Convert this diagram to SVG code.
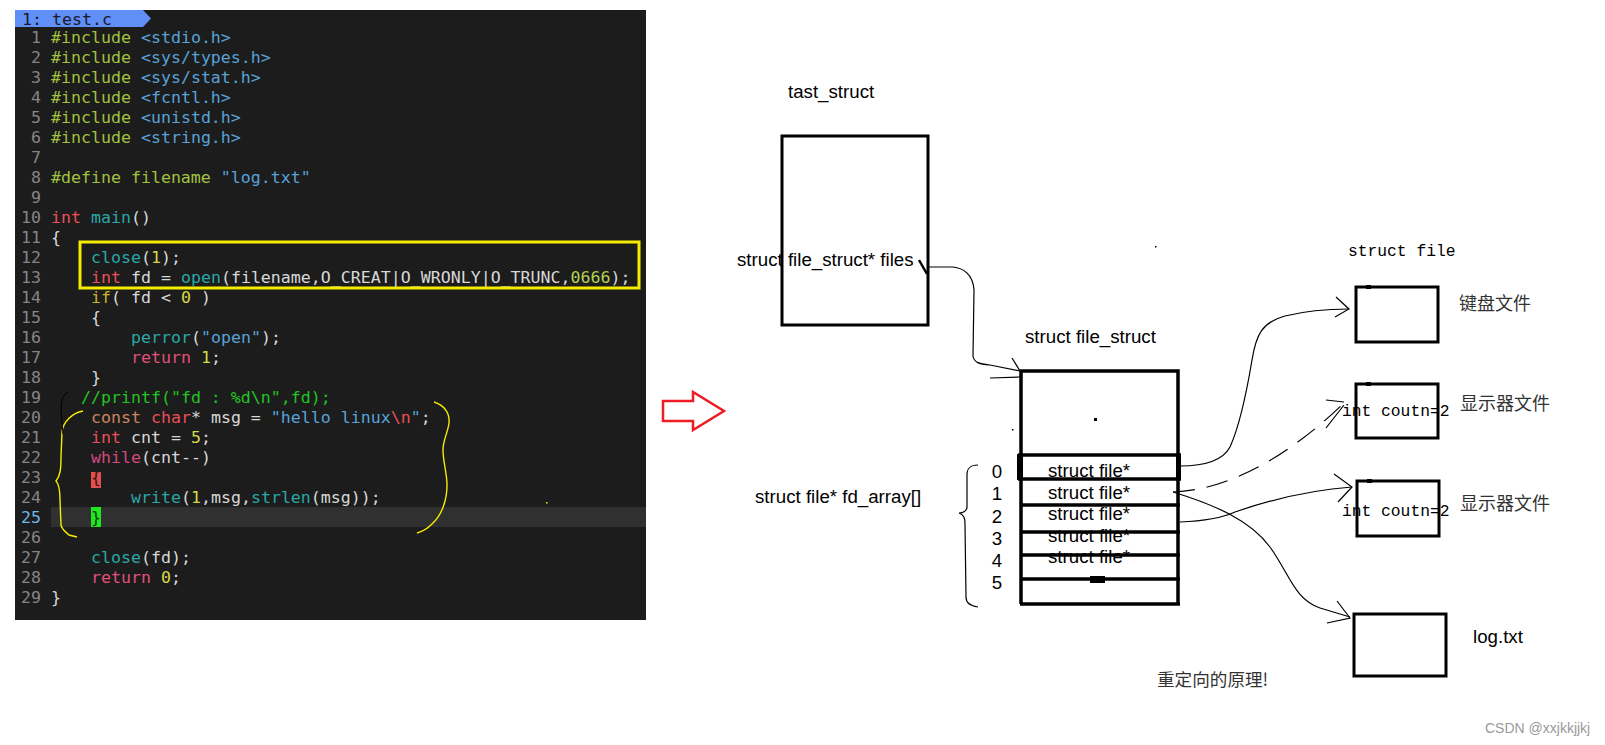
<svg xmlns="http://www.w3.org/2000/svg" width="1605" height="745" viewBox="0 0 1605 745">
<style>
.code{font-family:"DejaVu Sans Mono",monospace;font-size:16.6px;fill:#d8d8d8;white-space:pre}
.ln{font-family:"DejaVu Sans Mono",monospace;font-size:16.6px;fill:#858585;text-anchor:end}
.pp{fill:#a2c23e}.hd{fill:#58a2d8}.kw{fill:#e8505a}.fn{fill:#2aa7a7}.num{fill:#d7d74a}
.ret{fill:#e0507a}.cm{fill:#22c422}.cst{fill:#cc8460}.wh{fill:#d24a80}.ifk{fill:#c8b32c}.oct{fill:#b5cf52}
.lab{font-family:"Liberation Sans",Arial,sans-serif;font-size:18.7px;fill:#000}
.mono{font-family:"Liberation Mono","Courier New",monospace;font-size:16.3px;fill:#000}
.cjk{font-family:"Noto Sans CJK SC",sans-serif;font-size:18px;fill:#333}
.box{fill:none;stroke:#000;stroke-width:3}
.conn{fill:none;stroke:#000;stroke-width:1.2}
.brace{fill:none;stroke:#000;stroke-width:1.2}
.ybr{fill:none;stroke:#f5ec00;stroke-width:1.4}
</style>

<g id="code-panel">
<rect x="15" y="10" width="631" height="610" fill="#1c1c1c"/>
<rect x="51" y="507" width="595" height="20" fill="#303030"/>
<path d="M15,10 H143 L151,18.5 L143,27 H15 Z" fill="#5f8ff7"/>
<text x="22" y="25" class="code" style="fill:#1a1a2a">1: test.c</text>
<g>
<text class="ln" x="41" y="43">1</text>
<text class="ln" x="41" y="63">2</text>
<text class="ln" x="41" y="83">3</text>
<text class="ln" x="41" y="103">4</text>
<text class="ln" x="41" y="123">5</text>
<text class="ln" x="41" y="143">6</text>
<text class="ln" x="41" y="163">7</text>
<text class="ln" x="41" y="183">8</text>
<text class="ln" x="41" y="203">9</text>
<text class="ln" x="41" y="223">10</text>
<text class="ln" x="41" y="243">11</text>
<text class="ln" x="41" y="263">12</text>
<text class="ln" x="41" y="283">13</text>
<text class="ln" x="41" y="303">14</text>
<text class="ln" x="41" y="323">15</text>
<text class="ln" x="41" y="343">16</text>
<text class="ln" x="41" y="363">17</text>
<text class="ln" x="41" y="383">18</text>
<text class="ln" x="41" y="403">19</text>
<text class="ln" x="41" y="423">20</text>
<text class="ln" x="41" y="443">21</text>
<text class="ln" x="41" y="463">22</text>
<text class="ln" x="41" y="483">23</text>
<text class="ln" x="41" y="503">24</text>
<text class="ln" x="41" y="523" style="fill:#6fb7e6">25</text>
<text class="ln" x="41" y="543">26</text>
<text class="ln" x="41" y="563">27</text>
<text class="ln" x="41" y="583">28</text>
<text class="ln" x="41" y="603">29</text>
</g>
<rect x="91" y="472" width="10" height="16" fill="#e05050"/>
<rect x="91" y="507" width="10" height="20" fill="#22e622"/>
<g>
<text class="code" x="51" y="43"><tspan class="pp">#include</tspan> <tspan class="hd">&lt;stdio.h&gt;</tspan></text>
<text class="code" x="51" y="63"><tspan class="pp">#include</tspan> <tspan class="hd">&lt;sys/types.h&gt;</tspan></text>
<text class="code" x="51" y="83"><tspan class="pp">#include</tspan> <tspan class="hd">&lt;sys/stat.h&gt;</tspan></text>
<text class="code" x="51" y="103"><tspan class="pp">#include</tspan> <tspan class="hd">&lt;fcntl.h&gt;</tspan></text>
<text class="code" x="51" y="123"><tspan class="pp">#include</tspan> <tspan class="hd">&lt;unistd.h&gt;</tspan></text>
<text class="code" x="51" y="143"><tspan class="pp">#include</tspan> <tspan class="hd">&lt;string.h&gt;</tspan></text>
<text class="code" x="51" y="183"><tspan class="pp">#define filename</tspan> <tspan class="hd">"log.txt"</tspan></text>
<text class="code" x="51" y="223"><tspan class="kw">int</tspan> <tspan class="fn">main</tspan>()</text>
<text class="code" x="51" y="243">{</text>
<text class="code" x="91" y="263"><tspan class="fn">close</tspan>(<tspan class="num">1</tspan>);</text>
<text class="code" x="91" y="283"><tspan class="kw">int</tspan> fd = <tspan class="fn">open</tspan>(filename,O_CREAT|O_WRONLY|O_TRUNC,<tspan class="oct">0666</tspan>);</text>
<text class="code" x="91" y="303"><tspan class="ifk">if</tspan>( fd &lt; <tspan class="num">0</tspan> )</text>
<text class="code" x="91" y="323">{</text>
<text class="code" x="131" y="343"><tspan class="fn">perror</tspan>(<tspan class="hd">"open"</tspan>);</text>
<text class="code" x="131" y="363"><tspan class="ret">return</tspan> <tspan class="num">1</tspan>;</text>
<text class="code" x="91" y="383">}</text>
<text class="code" x="81" y="403"><tspan class="cm">//printf("fd : %d\n",fd);</tspan></text>
<text class="code" x="91" y="423"><tspan class="cst">const</tspan> <tspan class="kw">char</tspan>* msg = <tspan class="hd">"hello linux</tspan><tspan class="kw">\n</tspan><tspan class="hd">"</tspan>;</text>
<text class="code" x="91" y="443"><tspan class="kw">int</tspan> cnt = <tspan class="num">5</tspan>;</text>
<text class="code" x="91" y="463"><tspan class="wh">while</tspan>(cnt--)</text>
<text class="code" x="91" y="483" style="fill:#3a1010">{</text>
<text class="code" x="131" y="503"><tspan class="fn">write</tspan>(<tspan class="num">1</tspan>,msg,<tspan class="fn">strlen</tspan>(msg));</text>
<text class="code" x="91" y="523" style="fill:#0a3a0a">}</text>
<text class="code" x="91" y="563"><tspan class="fn">close</tspan>(fd);</text>
<text class="code" x="91" y="583"><tspan class="ret">return</tspan> <tspan class="num">0</tspan>;</text>
<text class="code" x="51" y="603">}</text>
</g>
<rect x="80" y="242" width="559" height="46" fill="none" stroke="#f5ec00" stroke-width="3"/>
<path class="ybr" d="M83,411 C72,413 63,422 62,432 L61,457 C61,470 60,476 56,481 C59,484 60,490 60,500 L61,525 C62,530 66,532 69,535 L77,537"/>
<path class="ybr" d="M434,402 C444,405 450,413 449,423 C448,432 443,440 443,450 C443,462 447,473 447,485 C447,500 442,515 432,524 C427,529 421,532 417,533"/>
<path d="M68,392 C63,395 61,399 61,410 L63,434" fill="none" stroke="#000" stroke-width="1"/>
<rect x="546" y="502" width="1.5" height="1.5" fill="#f5ec00"/>
</g>

<g id="red-arrow">
<path d="M663,401 H693 V392 L724,411 L693,430 V421 H663 Z" fill="none" stroke="#ee1c24" stroke-width="2.5"/>
</g>

<g id="tast-struct">
<text class="lab" x="788" y="98">tast_struct</text>
<text class="lab" x="737" y="266">struct file_struct* files</text>
<rect class="box" x="782" y="136" width="146" height="189"/>
<path d="M919,260 L927,274" stroke="#000" stroke-width="2.5"/>
</g>

<g id="file-struct">
<text class="lab" x="1025" y="343">struct file_struct</text>
<text class="lab" x="755" y="503">struct file* fd_array[]</text>
<g class="lab" text-anchor="middle">
<text x="997" y="478">0</text>
<text x="997" y="500">1</text>
<text x="997" y="523">2</text>
<text x="997" y="545">3</text>
<text x="997" y="567">4</text>
<text x="997" y="589">5</text>
</g>
<g class="lab">
<text x="1048" y="477">struct file*</text>
<text x="1048" y="499">struct file*</text>
<text x="1048" y="520">struct file*</text>
<text x="1048" y="542">struct file*</text>
<text x="1048" y="563">struct file*</text>
</g>
<path d="M1021,604 V371 H1178 V604" fill="none" stroke="#000" stroke-width="3.5"/>
<g stroke="#000" stroke-width="3.5">
<line x1="1018" y1="455" x2="1181" y2="455"/>
<line x1="1018" y1="479" x2="1181" y2="479"/>
<line x1="1020" y1="505" x2="1180" y2="505"/>
<line x1="1020" y1="532" x2="1180" y2="532"/>
<line x1="1020" y1="555" x2="1180" y2="555"/>
<line x1="1020" y1="579" x2="1180" y2="579"/>
<line x1="1020" y1="604" x2="1180" y2="604"/>
</g>
<rect x="1017" y="454" width="6" height="26" fill="#000"/>
<rect x="1176" y="454" width="5" height="26" fill="#000"/>
<rect x="1090" y="576" width="15" height="7" fill="#000"/>
<rect x="1094" y="418" width="3" height="3" fill="#000"/>
<rect x="1012" y="429" width="1.5" height="1.5" fill="#000"/>
<rect x="1155" y="246" width="1.5" height="1.5" fill="#000"/>
<path class="brace" d="M978,465 C970,465 967,468 967,475 L967,507 C967,511 963,513 959,513 C964,515 965,518 965,524 L966,597 C966,603 970,606 978,607"/>
</g>

<g id="file-keyboard">
<text class="mono" x="1348" y="256">struct file</text>
<rect class="box" x="1356" y="287" width="82" height="55"/>
<rect x="1366" y="285" width="5" height="4" fill="#000"/>
<text class="cjk" x="1459" y="310">键盘文件</text>
</g>

<g id="file-display-1">
<text class="mono" x="1342" y="416">int coutn=2</text>
<rect class="box" x="1356" y="384" width="82" height="54"/>
<rect x="1366" y="382" width="5" height="4" fill="#000"/>
<text class="cjk" x="1460" y="410">显示器文件</text>
</g>

<g id="file-display-2">
<text class="mono" x="1342" y="516">int coutn=2</text>
<rect class="box" x="1357" y="481" width="82" height="55"/>
<rect x="1367" y="479" width="5" height="4" fill="#000"/>
<text class="cjk" x="1460" y="510">显示器文件</text>
</g>

<g id="file-log">
<rect class="box" x="1354" y="614" width="92" height="62"/>
<text class="lab" x="1473" y="643">log.txt</text>
</g>

<g id="connectors">
<path class="conn" d="M928,267 L953,267 C963,268 973,274 974,290 L973,356 C974,362 978,364 990,365 L1020,371"/>
<path class="conn" d="M1012,358 L1020,371 M990,378 L1020,377"/>
<path class="conn" d="M1180,466 C1200,466 1222,462 1230,447 C1240,425 1247,390 1252,360 C1256,335 1262,322 1285,316 C1305,311 1325,309 1349,309"/>
<path class="conn" d="M1336,297 L1349,309 L1335,317"/>
<path class="conn" d="M1173,492 C1230,490 1290,455 1344,403" stroke-dasharray="22,12"/>
<path class="conn" d="M1326,400 L1344,402 M1326,428 L1344,405"/>
<path class="conn" d="M1180,522 C1205,521 1222,518 1235,512 C1270,500 1310,490 1352,487"/>
<path class="conn" d="M1334,474 L1352,487 L1338,502"/>
<path class="conn" d="M1173,492 C1215,505 1250,520 1270,547 C1290,575 1295,600 1320,608 L1350,617"/>
<path class="conn" d="M1337,601 L1350,618 L1327,623"/>
</g>

<text class="cjk" x="1157" y="686" style="font-size:17.6px">重定向的原理!</text>
<text x="1485" y="733" style="font-family:'Liberation Sans',Arial,sans-serif;font-size:14px;fill:#9a9a9a">CSDN @xxjkkjjkj</text>
</svg>
